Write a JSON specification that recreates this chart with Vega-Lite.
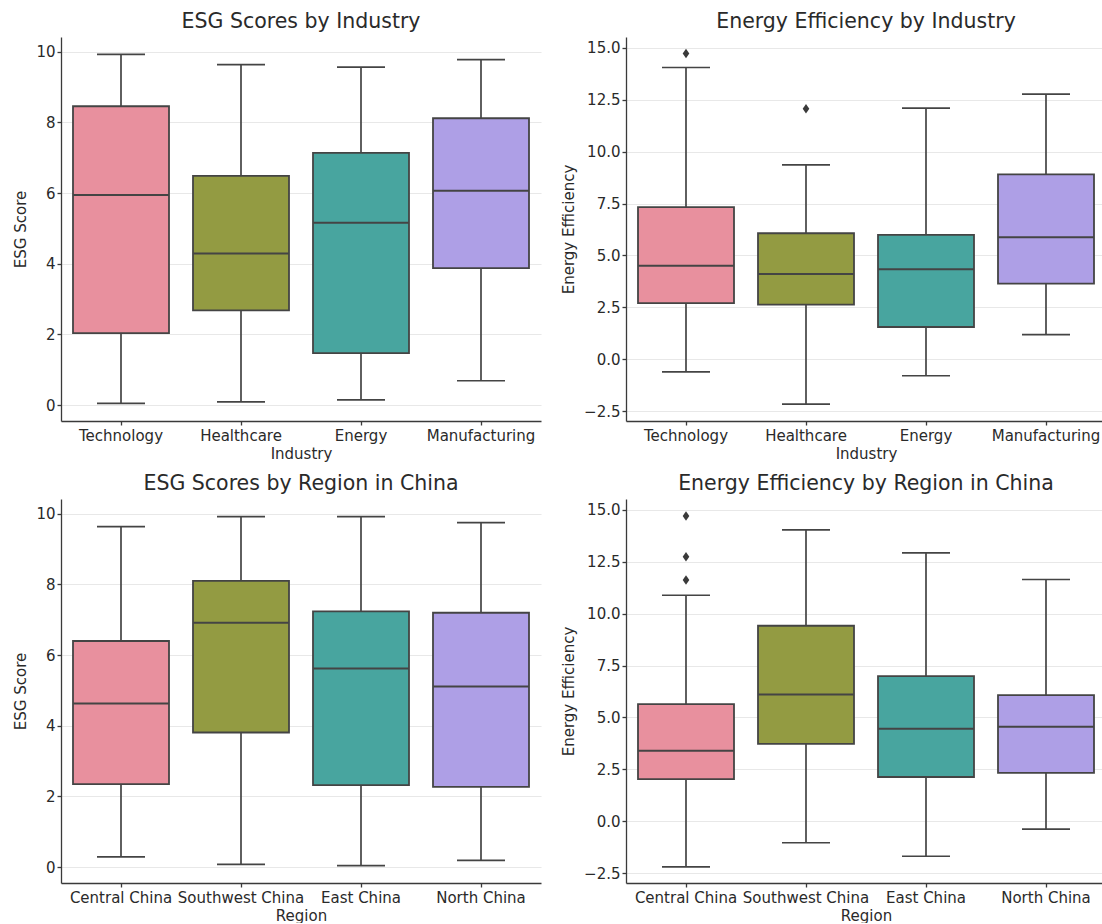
{
  "$schema": "https://vega.github.io/schema/vega-lite/v6.json",
  "padding": {"left": 13, "top": 11, "right": 0, "bottom": 0},
  "bounds": "flush",
  "columns": 2,
  "spacing": {"row": 78, "column": 85},
  "resolve": {"scale": {"x": "independent", "y": "independent", "fill": "independent"}},
  "datasets": {
    "esg_industry": [
      {"cat": "Technology", "min": 0.05, "q1": 2.04, "median": 5.95, "q3": 8.46, "max": 9.93},
      {"cat": "Healthcare", "min": 0.09, "q1": 2.68, "median": 4.29, "q3": 6.49, "max": 9.64},
      {"cat": "Energy", "min": 0.15, "q1": 1.47, "median": 5.16, "q3": 7.14, "max": 9.57},
      {"cat": "Manufacturing", "min": 0.69, "q1": 3.88, "median": 6.07, "q3": 8.12, "max": 9.78}
    ],
    "energy_industry": [
      {"cat": "Technology", "min": -0.61, "q1": 2.70, "median": 4.50, "q3": 7.33, "max": 14.06},
      {"cat": "Healthcare", "min": -2.17, "q1": 2.63, "median": 4.11, "q3": 6.07, "max": 9.37},
      {"cat": "Energy", "min": -0.80, "q1": 1.55, "median": 4.33, "q3": 5.99, "max": 12.10},
      {"cat": "Manufacturing", "min": 1.18, "q1": 3.64, "median": 5.88, "q3": 8.91, "max": 12.78}
    ],
    "energy_industry_out": [
      {"cat": "Technology", "value": 14.74},
      {"cat": "Healthcare", "value": 12.07}
    ],
    "esg_region": [
      {"cat": "Central China", "min": 0.29, "q1": 2.35, "median": 4.63, "q3": 6.40, "max": 9.64},
      {"cat": "Southwest China", "min": 0.08, "q1": 3.81, "median": 6.92, "q3": 8.10, "max": 9.92},
      {"cat": "East China", "min": 0.04, "q1": 2.32, "median": 5.62, "q3": 7.24, "max": 9.92},
      {"cat": "North China", "min": 0.19, "q1": 2.27, "median": 5.11, "q3": 7.20, "max": 9.75}
    ],
    "energy_region": [
      {"cat": "Central China", "min": -2.20, "q1": 2.03, "median": 3.40, "q3": 5.64, "max": 10.89},
      {"cat": "Southwest China", "min": -1.04, "q1": 3.73, "median": 6.11, "q3": 9.42, "max": 14.04},
      {"cat": "East China", "min": -1.69, "q1": 2.13, "median": 4.46, "q3": 6.99, "max": 12.93},
      {"cat": "North China", "min": -0.38, "q1": 2.33, "median": 4.55, "q3": 6.08, "max": 11.65}
    ],
    "energy_region_out": [
      {"cat": "Central China", "value": 14.71},
      {"cat": "Central China", "value": 12.75},
      {"cat": "Central China", "value": 11.62}
    ]
  },
  "concat": [
    {
      "title": "ESG Scores by Industry",
      "width": 480, "height": 384,
      "data": {"name": "esg_industry"},
      "encoding": {
        "x": {"field": "cat", "type": "nominal", "title": "Industry",
              "scale": {"domain": ["Technology", "Healthcare", "Energy", "Manufacturing"], "paddingInner": 0, "paddingOuter": 0}}
      },
      "layer": [
        {"mark": {"type": "rule", "color": "#444444", "strokeWidth": 1.7},
         "encoding": {"y": {"field": "min", "type": "quantitative", "title": "ESG Score",
                            "scale": {"domain": [-0.45, 10.42], "nice": false, "zero": false},
                            "axis": {"values": [0, 2, 4, 6, 8, 10], "format": "d"}},
                      "y2": {"field": "max"}}},
        {"mark": {"type": "tick", "color": "#444444", "size": 48, "thickness": 1.7, "opacity": 1},
         "encoding": {"y": {"field": "min", "type": "quantitative", "title": "ESG Score"}}},
        {"mark": {"type": "tick", "color": "#444444", "size": 48, "thickness": 1.7, "opacity": 1},
         "encoding": {"y": {"field": "max", "type": "quantitative", "title": "ESG Score"}}},
        {"mark": {"type": "bar", "width": {"band": 0.8}, "stroke": "#444444", "strokeWidth": 1.8, "opacity": 1},
         "encoding": {"y": {"field": "q1", "type": "quantitative", "title": "ESG Score"}, "y2": {"field": "q3"},
                      "fill": {"field": "cat", "type": "nominal", "legend": null,
                               "scale": {"domain": ["Technology", "Healthcare", "Energy", "Manufacturing"], "range": ["#e8909e", "#939b42", "#48a59f", "#ae9fe6"]}}}},
        {"mark": {"type": "tick", "color": "#444444", "size": 96, "thickness": 2, "opacity": 1},
         "encoding": {"y": {"field": "median", "type": "quantitative", "title": "ESG Score"}}}
      ]
    },
    {
      "title": "Energy Efficiency by Industry",
      "width": 480, "height": 384,
      "encoding": {
        "x": {"field": "cat", "type": "nominal", "title": "Industry",
              "scale": {"domain": ["Technology", "Healthcare", "Energy", "Manufacturing"], "paddingInner": 0, "paddingOuter": 0}}
      },
      "layer": [
        {"data": {"name": "energy_industry"},
         "mark": {"type": "rule", "color": "#444444", "strokeWidth": 1.7},
         "encoding": {"y": {"field": "min", "type": "quantitative", "title": "Energy Efficiency",
                            "scale": {"domain": [-2.98, 15.53], "nice": false, "zero": false},
                            "axis": {"values": [-2.5, 0, 2.5, 5, 7.5, 10, 12.5, 15], "format": ".1f"}},
                      "y2": {"field": "max"}}},
        {"data": {"name": "energy_industry"},
         "mark": {"type": "tick", "color": "#444444", "size": 48, "thickness": 1.7, "opacity": 1},
         "encoding": {"y": {"field": "min", "type": "quantitative", "title": "Energy Efficiency"}}},
        {"data": {"name": "energy_industry"},
         "mark": {"type": "tick", "color": "#444444", "size": 48, "thickness": 1.7, "opacity": 1},
         "encoding": {"y": {"field": "max", "type": "quantitative", "title": "Energy Efficiency"}}},
        {"data": {"name": "energy_industry"},
         "mark": {"type": "bar", "width": {"band": 0.8}, "stroke": "#444444", "strokeWidth": 1.8, "opacity": 1},
         "encoding": {"y": {"field": "q1", "type": "quantitative", "title": "Energy Efficiency"}, "y2": {"field": "q3"},
                      "fill": {"field": "cat", "type": "nominal", "legend": null,
                               "scale": {"domain": ["Technology", "Healthcare", "Energy", "Manufacturing"], "range": ["#e8909e", "#939b42", "#48a59f", "#ae9fe6"]}}}},
        {"data": {"name": "energy_industry"},
         "mark": {"type": "tick", "color": "#444444", "size": 96, "thickness": 2, "opacity": 1},
         "encoding": {"y": {"field": "median", "type": "quantitative", "title": "Energy Efficiency"}}},
        {"data": {"name": "energy_industry_out"},
         "mark": {"type": "point", "shape": "M0,-1L0.7,0L0,1L-0.7,0Z", "filled": true, "color": "#3a3a3a", "size": 90, "opacity": 1},
         "encoding": {"y": {"field": "value", "type": "quantitative", "title": "Energy Efficiency"}}}
      ]
    },
    {
      "title": "ESG Scores by Region in China",
      "width": 480, "height": 384,
      "data": {"name": "esg_region"},
      "encoding": {
        "x": {"field": "cat", "type": "nominal", "title": "Region",
              "scale": {"domain": ["Central China", "Southwest China", "East China", "North China"], "paddingInner": 0, "paddingOuter": 0}}
      },
      "layer": [
        {"mark": {"type": "rule", "color": "#444444", "strokeWidth": 1.7},
         "encoding": {"y": {"field": "min", "type": "quantitative", "title": "ESG Score",
                            "scale": {"domain": [-0.45, 10.42], "nice": false, "zero": false},
                            "axis": {"values": [0, 2, 4, 6, 8, 10], "format": "d"}},
                      "y2": {"field": "max"}}},
        {"mark": {"type": "tick", "color": "#444444", "size": 48, "thickness": 1.7, "opacity": 1},
         "encoding": {"y": {"field": "min", "type": "quantitative", "title": "ESG Score"}}},
        {"mark": {"type": "tick", "color": "#444444", "size": 48, "thickness": 1.7, "opacity": 1},
         "encoding": {"y": {"field": "max", "type": "quantitative", "title": "ESG Score"}}},
        {"mark": {"type": "bar", "width": {"band": 0.8}, "stroke": "#444444", "strokeWidth": 1.8, "opacity": 1},
         "encoding": {"y": {"field": "q1", "type": "quantitative", "title": "ESG Score"}, "y2": {"field": "q3"},
                      "fill": {"field": "cat", "type": "nominal", "legend": null,
                               "scale": {"domain": ["Central China", "Southwest China", "East China", "North China"], "range": ["#e8909e", "#939b42", "#48a59f", "#ae9fe6"]}}}},
        {"mark": {"type": "tick", "color": "#444444", "size": 96, "thickness": 2, "opacity": 1},
         "encoding": {"y": {"field": "median", "type": "quantitative", "title": "ESG Score"}}}
      ]
    },
    {
      "title": "Energy Efficiency by Region in China",
      "width": 480, "height": 384,
      "encoding": {
        "x": {"field": "cat", "type": "nominal", "title": "Region",
              "scale": {"domain": ["Central China", "Southwest China", "East China", "North China"], "paddingInner": 0, "paddingOuter": 0}}
      },
      "layer": [
        {"data": {"name": "energy_region"},
         "mark": {"type": "rule", "color": "#444444", "strokeWidth": 1.7},
         "encoding": {"y": {"field": "min", "type": "quantitative", "title": "Energy Efficiency",
                            "scale": {"domain": [-2.98, 15.53], "nice": false, "zero": false},
                            "axis": {"values": [-2.5, 0, 2.5, 5, 7.5, 10, 12.5, 15], "format": ".1f"}},
                      "y2": {"field": "max"}}},
        {"data": {"name": "energy_region"},
         "mark": {"type": "tick", "color": "#444444", "size": 48, "thickness": 1.7, "opacity": 1},
         "encoding": {"y": {"field": "min", "type": "quantitative", "title": "Energy Efficiency"}}},
        {"data": {"name": "energy_region"},
         "mark": {"type": "tick", "color": "#444444", "size": 48, "thickness": 1.7, "opacity": 1},
         "encoding": {"y": {"field": "max", "type": "quantitative", "title": "Energy Efficiency"}}},
        {"data": {"name": "energy_region"},
         "mark": {"type": "bar", "width": {"band": 0.8}, "stroke": "#444444", "strokeWidth": 1.8, "opacity": 1},
         "encoding": {"y": {"field": "q1", "type": "quantitative", "title": "Energy Efficiency"}, "y2": {"field": "q3"},
                      "fill": {"field": "cat", "type": "nominal", "legend": null,
                               "scale": {"domain": ["Central China", "Southwest China", "East China", "North China"], "range": ["#e8909e", "#939b42", "#48a59f", "#ae9fe6"]}}}},
        {"data": {"name": "energy_region"},
         "mark": {"type": "tick", "color": "#444444", "size": 96, "thickness": 2, "opacity": 1},
         "encoding": {"y": {"field": "median", "type": "quantitative", "title": "Energy Efficiency"}}},
        {"data": {"name": "energy_region_out"},
         "mark": {"type": "point", "shape": "M0,-1L0.7,0L0,1L-0.7,0Z", "filled": true, "color": "#3a3a3a", "size": 90, "opacity": 1},
         "encoding": {"y": {"field": "value", "type": "quantitative", "title": "Energy Efficiency"}}}
      ]
    }
  ],
  "config": {
    "font": "DejaVu Sans",
    "view": {"stroke": null},
    "axis": {
      "labelFont": "DejaVu Sans", "labelFontSize": 15, "labelColor": "#2a2a2a",
      "titleFont": "DejaVu Sans", "titleFontSize": 15, "titleFontWeight": "normal", "titleColor": "#2a2a2a",
      "domainColor": "#3a3a3a", "domainWidth": 1.3, "tickColor": "#3a3a3a", "tickWidth": 1.3, "tickSize": 4
    },
    "axisX": {"grid": false, "labelAngle": 0, "labelPadding": 3, "titlePadding": 3},
    "axisY": {"grid": true, "gridColor": "#e8e8e8", "gridWidth": 1.2, "labelPadding": 2, "titlePadding": 7},
    "title": {"font": "DejaVu Sans", "fontSize": 20.5, "fontWeight": "normal", "color": "#2a2a2a", "offset": 5}
  }
}
